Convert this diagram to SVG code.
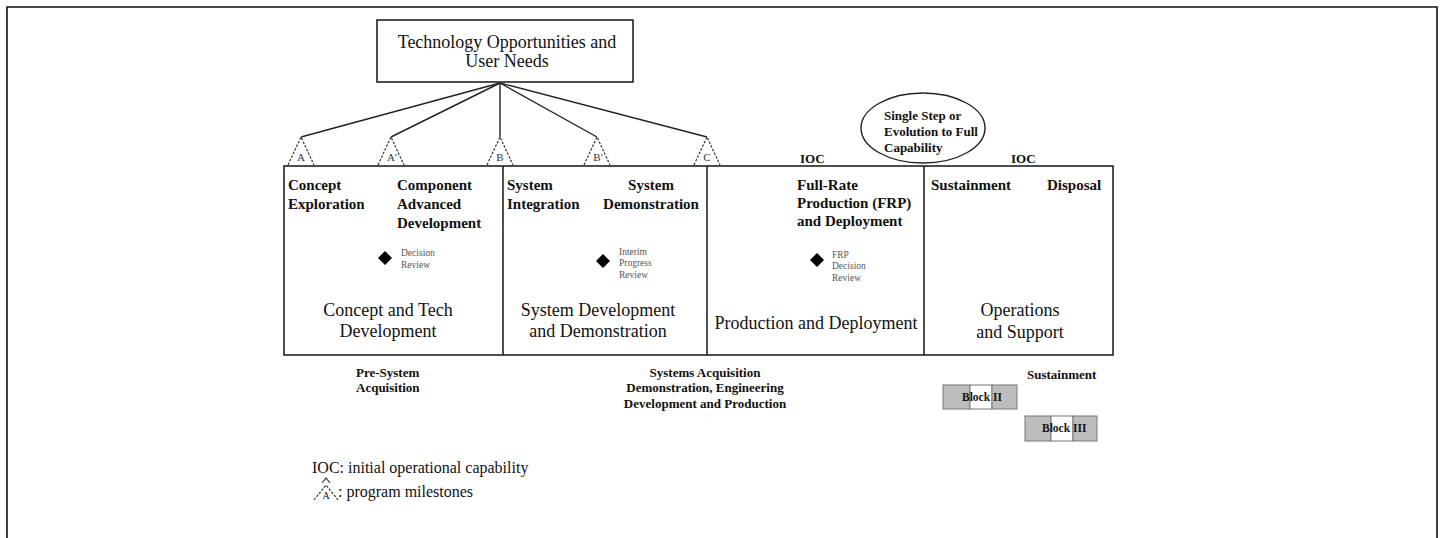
<svg xmlns="http://www.w3.org/2000/svg" width="1442" height="538" viewBox="0 0 1442 538">
<style>
.frame{fill:none;stroke:#111;stroke-width:1.6}
.box{fill:none;stroke:#222;stroke-width:1.6}
.conn{fill:none;stroke:#222;stroke-width:1.4}
.tri{fill:none;stroke:#333;stroke-width:1.2;stroke-dasharray:2.5 1.5}
.t{font-family:"Liberation Serif","Times New Roman",serif;fill:#111}
.big{font-size:18px}
.lbl{font-size:15px;font-weight:bold}
.sm{font-size:13px;font-weight:bold}
.ell{font-size:13px;font-weight:bold}
.tiny{font-size:9.5px;fill:#555}
.ms{font-size:11px;fill:#333}
.mid{text-anchor:middle}
.blkg{fill:#bdbdbd;stroke:#777;stroke-width:1}
.blkw{fill:#fff;stroke:#777;stroke-width:1}
</style>
<rect width="1442" height="538" fill="#fff"/>
<path class="frame" d="M7,538 V7 H1437 V538"/>

<g id="top-node">
<rect class="box" x="377" y="20" width="256" height="62" fill="#fff"/>
<text class="t big mid" x="507" y="48">Technology Opportunities and</text>
<text class="t big mid" x="507" y="67">User Needs</text>
</g>

<g id="connectors">
<line class="conn" x1="500" y1="83" x2="301" y2="137"/>
<line class="conn" x1="500" y1="83" x2="391" y2="137"/>
<line class="conn" x1="500" y1="83" x2="500" y2="137"/>
<line class="conn" x1="500" y1="83" x2="597" y2="137"/>
<line class="conn" x1="500" y1="83" x2="707" y2="137"/>
</g>

<g id="milestones">
<g id="ms-A"><path class="tri" d="M288,165 L301,137 L314,165"/><text class="t ms mid" x="301" y="161">A</text></g>
<g id="ms-A2"><path class="tri" d="M378,165 L391,137 L404,165"/><text class="t ms mid" x="392" y="161">A'</text></g>
<g id="ms-B"><path class="tri" d="M487,165 L500,137 L513,165"/><text class="t ms mid" x="500" y="161">B</text></g>
<g id="ms-B2"><path class="tri" d="M584,165 L597,137 L610,165"/><text class="t ms mid" x="598" y="161">B'</text></g>
<g id="ms-C"><path class="tri" d="M694,165 L707,137 L720,165"/><text class="t ms mid" x="707" y="161">C</text></g>
</g>

<g id="ellipse-node">
<ellipse cx="923" cy="128" rx="62" ry="35" fill="#fff" stroke="#222" stroke-width="1.4"/>
<text class="t ell" x="884" y="120">Single Step or</text>
<text class="t ell" x="884" y="136">Evolution to Full</text>
<text class="t ell" x="884" y="152">Capability</text>
</g>

<g id="ioc-labels">
<text class="t sm" x="800" y="163">IOC</text>
<text class="t sm" x="1011" y="163">IOC</text>
</g>

<g id="phase-box">
<rect class="box" x="284" y="166" width="829" height="189"/>
<line class="box" x1="503" y1="166" x2="503" y2="355"/>
<line class="box" x1="707" y1="166" x2="707" y2="355"/>
<line class="box" x1="924" y1="166" x2="924" y2="355"/>
</g>

<g id="phase-concept">
<text class="t lbl" x="288" y="190">Concept</text>
<text class="t lbl" x="288" y="209">Exploration</text>
<text class="t lbl" x="397" y="190">Component</text>
<text class="t lbl" x="397" y="209">Advanced</text>
<text class="t lbl" x="397" y="228">Development</text>
<path d="M385,251 L392,258 L385,265 L378,258 Z" fill="#000"/>
<text class="t tiny" x="401" y="256">Decision</text>
<text class="t tiny" x="401" y="268">Review</text>
<text class="t big mid" x="388" y="316">Concept and Tech</text>
<text class="t big mid" x="388" y="337">Development</text>
</g>

<g id="phase-sdd">
<text class="t lbl" x="507" y="190">System</text>
<text class="t lbl" x="507" y="209">Integration</text>
<text class="t lbl mid" x="651" y="190">System</text>
<text class="t lbl mid" x="651" y="209">Demonstration</text>
<path d="M603,254 L610,261 L603,268 L596,261 Z" fill="#000"/>
<text class="t tiny" x="619" y="255">Interim</text>
<text class="t tiny" x="619" y="266">Progress</text>
<text class="t tiny" x="619" y="278">Review</text>
<text class="t big mid" x="598" y="316">System Development</text>
<text class="t big mid" x="598" y="337">and Demonstration</text>
</g>

<g id="phase-pd">
<text class="t lbl" x="797" y="190">Full-Rate</text>
<text class="t lbl" x="797" y="208">Production (FRP)</text>
<text class="t lbl" x="797" y="226">and Deployment</text>
<path d="M817,253 L824,260 L817,267 L810,260 Z" fill="#000"/>
<text class="t tiny" x="832" y="258">FRP</text>
<text class="t tiny" x="832" y="269">Decision</text>
<text class="t tiny" x="832" y="281">Review</text>
<text class="t big mid" x="816" y="329">Production and Deployment</text>
</g>

<g id="phase-os">
<text class="t lbl" x="931" y="190">Sustainment</text>
<text class="t lbl" x="1047" y="190">Disposal</text>
<text class="t big mid" x="1020" y="316">Operations</text>
<text class="t big mid" x="1020" y="338">and Support</text>
</g>

<g id="bottom-labels">
<text class="t sm" x="356" y="377">Pre-System</text>
<text class="t sm" x="356" y="392">Acquisition</text>
<text class="t sm mid" x="705" y="377">Systems Acquisition</text>
<text class="t sm mid" x="705" y="392">Demonstration, Engineering</text>
<text class="t sm mid" x="705" y="408">Development and Production</text>
<text class="t sm" x="1027" y="379">Sustainment</text>
</g>

<g id="block-II">
<rect class="blkg" x="943" y="385" width="27" height="24"/>
<rect class="blkw" x="970" y="385" width="22" height="24"/>
<rect class="blkg" x="992" y="385" width="25" height="24"/>
<text class="t" style="font-size:11.5px;font-weight:bold" x="962" y="401">Block II</text>
</g>

<g id="block-III">
<rect class="blkg" x="1025" y="416" width="26" height="25"/>
<rect class="blkw" x="1051" y="416" width="22" height="25"/>
<rect class="blkg" x="1073" y="416" width="24" height="25"/>
<text class="t" style="font-size:11.5px;font-weight:bold" x="1042" y="432">Block III</text>
</g>

<g id="legend">
<text class="t" style="font-size:16px" x="312" y="473">IOC: initial operational capability</text>
<path d="M322,483 L326,478 L330,483" fill="none" stroke="#333" stroke-width="1.2"/>
<path class="tri" d="M314,500 L326,485 L338,500"/>
<text class="t" style="font-size:10px" x="326" y="499" text-anchor="middle">A</text>
<text class="t" style="font-size:16px" x="338" y="497">: program milestones</text>
</g>
</svg>
